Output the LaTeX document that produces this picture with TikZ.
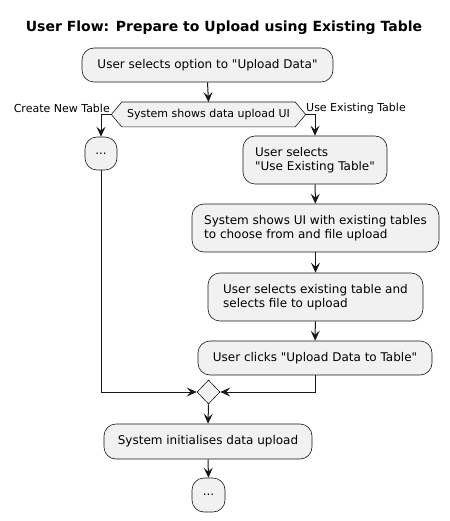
\documentclass[tikz,border=0pt]{standalone}
\usepackage{fontspec}
\setmainfont{DejaVu Sans}[Ligatures=TeXOff]
\usetikzlibrary{arrows.meta,shapes.geometric,backgrounds}
\definecolor{boxfill}{HTML}{F1F1F1}
\definecolor{ink}{HTML}{181818}
\tikzset{
  act/.style={draw=ink, fill=boxfill, line width=0.6pt, rounded corners=12pt, inner sep=0pt, align=left, font=\fontsize{12}{14}\selectfont, text=black},
  arr/.style={draw=ink, line width=1pt, -{Stealth[length=10pt,width=9pt,inset=4pt]}},
  lin/.style={draw=ink, line width=1pt},
  lbl/.style={font=\fontsize{11}{13}\selectfont, inner sep=0pt, text=black},
  merge/.style={draw=ink, fill=boxfill, line width=0.6pt, diamond, minimum width=23pt, minimum height=24pt, inner sep=0pt, shape aspect=1}
}
\begin{document}
\begin{tikzpicture}[x=1pt,y=-1pt]
\useasboundingbox (0,0) rectangle (449,521);
\node[font=\bfseries\fontsize{14}{16}\selectfont, inner sep=0pt] (title) at (224,28) {User Flow: Prepare to Upload using Existing Table};

\node[act, minimum width=251pt, minimum height=34pt] (b1) at (207.5,65) {User selects option to "Upload Data"};

\node[lbl, minimum width=173pt, minimum height=24.5pt] (hex) at (208.5,114.5) {System shows data upload UI};
\coordinate (hexW) at ([xshift=-10.5pt]hex.west);
\coordinate (hexE) at ([xshift=10.5pt]hex.east);
\begin{scope}[on background layer]
\draw[draw=ink, fill=boxfill, line width=0.6pt] (hex.north west) -- (hex.north east) -- (hexE) -- (hex.south east) -- (hex.south west) -- (hexW) -- cycle;
\end{scope}
\node[lbl, anchor=east] (lblL) at (110,108) {Create New Table};
\node[lbl, anchor=west] (lblR) at (306,108) {Use Existing Table};

\node[act, minimum width=32pt, minimum height=33pt, align=center] (d1) at (101,153.5) {...};
\node[act, minimum width=144pt, minimum height=48pt] (b2) at (315,160) {User selects\\"Use Existing Table"};
\node[act, minimum width=247pt, minimum height=48pt] (b3) at (315.5,228) {System shows UI with existing tables\\to choose from and file upload};
\node[act, minimum width=215pt, minimum height=48pt] (b4) at (315.5,297) {User selects existing table and\\selects file to upload};
\node[act, minimum width=234pt, minimum height=34pt] (b5) at (315,358) {User clicks "Upload Data to Table"};
\node[merge] (m) at (208.5,392) {};
\node[act, minimum width=208pt, minimum height=35pt] (b6) at (208,441.5) {System initialises data upload};
\node[act, minimum width=33pt, minimum height=34pt, align=center] (d2) at (208.5,495) {...};

\draw[arr] (b1.south) -- (hex.north);
\draw[arr] (hexW) -| (d1.north);
\draw[arr] (hexE) -| (b2.north);
\draw[arr] (b2) -- (b3);
\draw[arr] (b3) -- (b4);
\draw[arr] (b4) -- (b5);
\draw[arr] (d1.south) |- (m.west);
\draw[arr] (b5.south) |- (m.east);
\draw[arr] (m.south) -- (b6.north);
\draw[arr] (b6.south) -- (d2.north);
\end{tikzpicture}
\end{document}
